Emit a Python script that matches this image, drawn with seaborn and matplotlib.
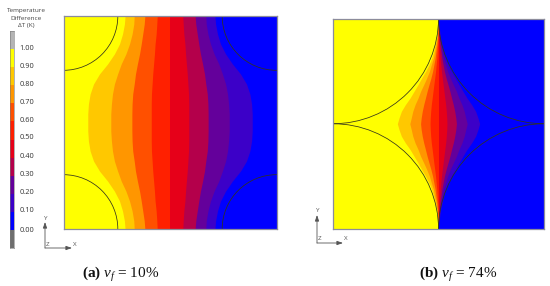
import matplotlib
matplotlib.use("Agg")
import matplotlib.pyplot as plt
import numpy as np
import seaborn as sns
from matplotlib.colors import ListedColormap
from matplotlib.patches import Circle

band_colors = ["#ffff00", "#ffc800", "#ff9600", "#ff5000", "#ff2000",
               "#e60019", "#b4004b", "#64009b", "#3c00c8", "#0000ff"]
scale_colors = ["#b4b4b4"] + band_colors + ["#6e6e6e"]
scale_labels = ["1.00", "0.90", "0.80", "0.70", "0.60", "0.50",
                "0.40", "0.30", "0.20", "0.10", "0.00"]
scale_label_y = [48, 66, 84.5, 103, 120, 137.5, 156.5, 175, 193, 211, 230]

# panel a: distance of each contour from the centre line, by depth from the top edge
depth_a = [0, .038, .085, .131, .178, .225, .272, .319, .366, .413, .46, .5]
contour_a = [
    [.211, .214, .223, .237, .261, .293, .331, .359, .375, .383, .386, .386],
    [.168, .170, .178, .190, .207, .229, .246, .261, .270, .275, .278, .278],
    [.118, .121, .128, .135, .143, .153, .162, .168, .175, .178, .179, .179],
    [.060, .062, .065, .070, .073, .077, .081, .084, .087, .088, .088, .088],
]
radius_a = 0.255

# panel b: same, contours pinch to the centre line at the top edge
depth_b = [0, .03, .062, .093, .125, .156, .188, .22, .251, .283, .314, .346,
           .378, .409, .441, .472, .5]
contour_b = [
    [0, .001, .006, .010, .017, .023, .032, .045, .061, .080, .097, .116, .135, .157, .176, .187, .195],
    [0, .001, .004, .007, .012, .018, .024, .034, .043, .056, .070, .085, .097, .111, .122, .129, .136],
    [0, .001, .003, .005, .008, .012, .016, .022, .028, .036, .045, .054, .062, .070, .077, .082, .085],
    [0, 0, .001, .002, .004, .006, .008, .011, .014, .018, .022, .026, .030, .034, .037, .039, .040],
]
radius_b = 0.5

W, H = 550, 286

sns.set_style("white")
plt.rcParams["font.family"] = ["Open Sans", "DejaVu Sans"]
plt.rcParams["mathtext.fontset"] = "custom"
plt.rcParams["mathtext.rm"] = "Liberation Serif"
plt.rcParams["mathtext.it"] = "Liberation Serif:italic"
plt.rcParams["mathtext.bf"] = "Liberation Serif:bold"


def px_axes(fig, left, top, right, bottom):
    return fig.add_axes([left / W, 1 - bottom / H, (right - left) / W, (bottom - top) / H])


def draw_panel(ax, depth, offsets, radius):
    # mirror the upper half to the lower half, and left contours to the right
    y = np.array(list(depth) + [1 - d for d in depth[-2::-1]])
    full = [np.array(list(c) + list(c[-2::-1])) for c in offsets]
    edges = [np.zeros_like(y)] + [0.5 - c for c in full] + [np.full_like(y, 0.5)]
    edges += [0.5 + c for c in full[::-1]]
    # paint each band out to the right edge so no seams show between bands
    for i, color in enumerate(band_colors):
        ax.fill_betweenx(y, edges[i], 1, color=color, lw=0)
    for cx, cy in [(0, 0), (1, 0), (0, 1), (1, 1)]:
        ax.add_patch(Circle((cx, cy), radius, fill=False, ec="#33331c", lw=0.55))
    ax.set_xlim(0, 1)
    ax.set_ylim(1, 0)
    ax.set_xticks([])
    ax.set_yticks([])
    for s in ax.spines.values():
        s.set_visible(True)
        s.set_color("#8c8c9c")
        s.set_linewidth(0.9)


def draw_triad(ax, x0, y0, ytip, xtip):
    arrow = dict(arrowstyle="-|>,head_width=0.12,head_length=0.35", color="#555555", lw=0.6,
                 shrinkA=0, shrinkB=0)
    ax.annotate("", xy=(x0, ytip), xytext=(x0, y0), arrowprops=arrow)
    ax.annotate("", xy=(xtip, y0), xytext=(x0, y0), arrowprops=arrow)
    ax.text(x0 + 1, ytip - 4, "Y", fontsize=4.5, color="#555555", ha="center", va="center")
    ax.text(xtip + 3, y0 - 4, "X", fontsize=4.5, color="#555555", ha="center", va="center")
    ax.text(x0 + 2.5, y0 - 4, "Z", fontsize=4.5, color="#555555", ha="center", va="center")


fig = plt.figure(figsize=(W / 100, H / 100), dpi=100)

ax_a = px_axes(fig, 63.5, 16, 276.5, 229)
draw_panel(ax_a, depth_a, contour_a, radius_a)

ax_b = px_axes(fig, 333, 18.5, 544, 229)
draw_panel(ax_b, depth_b, contour_b, radius_b)

# colour scale
ax_scale = px_axes(fig, 10, 31, 14, 248)
sns.heatmap(np.arange(len(scale_colors)).reshape(-1, 1), cmap=ListedColormap(scale_colors),
            cbar=False, xticklabels=False, yticklabels=False, ax=ax_scale)
for s in ax_scale.spines.values():
    s.set_visible(True)
    s.set_color("#777777")
    s.set_linewidth(0.4)

# page-level annotations in pixel coordinates
ov = fig.add_axes([0, 0, 1, 1], facecolor="none")
ov.set_xlim(0, W)
ov.set_ylim(H, 0)
ov.axis("off")

for txt, yy in zip(["Temperature", "Difference", "\u0394T (K)"], [10.5, 18.5, 26]):
    ov.text(26, yy, txt, fontsize=4.6, color="#444444", ha="center", va="center")
for lab, yy in zip(scale_labels, scale_label_y):
    ov.text(26.5, yy, lab, fontsize=5.3, color="#333333", ha="center", va="center")

draw_triad(ov, 45, 248, 222, 72)
draw_triad(ov, 317, 243, 215, 343)

cap = dict(fontsize=11, color="#111111", ha="center", va="center",
           family=["Liberation Serif", "DejaVu Serif"])
ov.text(121, 274.5, r"$\mathbf{(a)}$ $v_f$ = 10%", **cap)
ov.text(458, 274.5, r"$\mathbf{(b)}$ $v_f$ = 74%", **cap)

fig.savefig("out.png", dpi=100)
